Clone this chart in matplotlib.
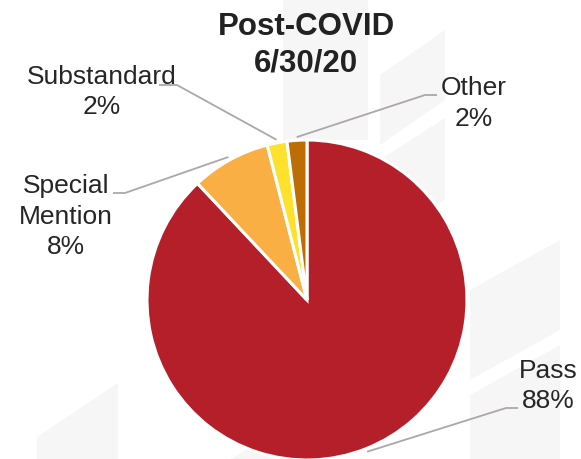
import matplotlib
matplotlib.use("Agg")
import numpy as np
import matplotlib.pyplot as plt
from matplotlib.patches import Polygon

plt.rcParams['font.family'] = ['Liberation Sans', 'DejaVu Sans']

# portfolio grades after COVID, 6/30/20
labels = ["Pass", "Special\nMention", "Substandard", "Other"]
shares = [88, 8, 2, 2]
colors = ["#B41F2A", "#F9AF43", "#FDE12D", "#BC6E05"]

title = "Post-COVID\n6/30/20"

W, H = 581, 459
fig = plt.figure(figsize=(W / 100, H / 100), dpi=100)
ax = fig.add_axes([0, 0, 1, 1])


def px(x, y):
    # pixel position (origin top-left) -> axes data coords
    return x, H - y


# faint watermark blocks behind the chart
bg = "#F6F6F6"
blocks = [
    [(283, 0), (368, 0), (368, 140), (283, 140)],
    [(380, 75), (445, 30), (445, 100), (380, 145)],
    [(380, 160), (445, 118), (445, 200), (380, 240)],
    [(37, 459), (37, 437), (118, 383), (118, 459)],
    [(470, 290), (560, 240), (560, 330), (470, 380)],
    [(470, 395), (560, 345), (560, 459), (470, 459)],
    [(230, 459), (300, 420), (300, 459)],
]
for b in blocks:
    ax.add_patch(Polygon([px(*p) for p in b], closed=True, fc=bg, ec="none", zorder=0))

cx, cy = px(307, 300)
R = 160
wedges, _ = ax.pie(shares, colors=colors, startangle=90, counterclock=False,
                   center=(cx, cy), radius=R,
                   wedgeprops=dict(edgecolor="white", linewidth=2.2))
for w in wedges:
    w.set_zorder(2)

ax.set_xlim(0, W)
ax.set_ylim(0, H)
ax.set_aspect("equal")
ax.axis("off")

txt = "#262626"
line_c = "#ABA7AA"

# label anchors: centre x, first baseline, leader start, elbow
label_pos = [
    dict(x=548, y=378, start=(518, 408), elbow=(506, 408)),
    dict(x=66, y=193, start=(113, 193), elbow=(125, 193)),
    dict(x=102, y=84, start=(159, 85), elbow=(177, 85)),
    dict(x=474, y=95, start=(437, 95), elbow=(425, 95)),
]
step = 30.5

for w, lab, val, lp in zip(wedges, labels, shares, label_pos):
    lines = lab.split("\n") + [f"{val}%"]
    for i, s in enumerate(lines):
        ax.text(*px(lp["x"], lp["y"] + i * step), s, ha="center", va="baseline",
                fontsize=19, color=txt, zorder=3)
    mid = np.deg2rad((w.theta1 + w.theta2) / 2)
    ex, ey = cx + 1.02 * R * np.cos(mid), cy + 1.02 * R * np.sin(mid)
    sx, sy = px(*lp["start"])
    bx, by = px(*lp["elbow"])
    ax.plot([sx, bx, ex], [sy, by, ey], color=line_c, lw=1.3, zorder=1,
            solid_capstyle="butt")

for i, s in enumerate(title.split("\n")):
    ax.text(*px(306, 35 + i * 36), s, ha="center", va="baseline",
            fontsize=22.5, fontweight="bold", color="#222222", zorder=3)

fig.savefig("out.png", dpi=100, facecolor="white")
